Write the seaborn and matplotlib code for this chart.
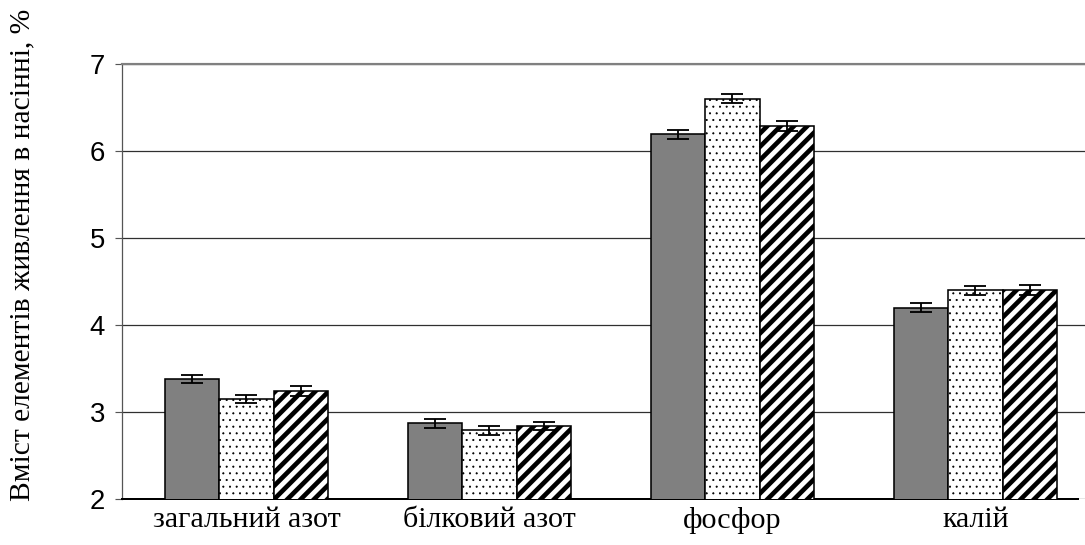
import matplotlib
matplotlib.use("Agg")
import matplotlib.pyplot as plt
import seaborn as sns
import pandas as pd
import numpy as np

# Nutrient content of seeds, %
categories = ["загальний азот", "білковий азот", "фосфор", "калій"]
variants = ["варіант 1", "варіант 2", "варіант 3"]
values_v1 = [3.38, 2.87, 6.19, 4.20]
values_v2 = [3.15, 2.79, 6.60, 4.40]
values_v3 = [3.24, 2.84, 6.29, 4.40]
errors_v1 = [0.05, 0.05, 0.05, 0.05]
errors_v2 = [0.05, 0.05, 0.05, 0.05]
errors_v3 = [0.06, 0.05, 0.06, 0.06]
y_ticks = [2, 3, 4, 5, 6, 7]

df = pd.DataFrame({
    "category": categories * 3,
    "variant": np.repeat(variants, len(categories)),
    "value": values_v1 + values_v2 + values_v3,
})
errors = [errors_v1, errors_v2, errors_v3]

sns.set_theme(style="white")
plt.rcParams["font.family"] = ["Liberation Sans", "DejaVu Sans"]

W, H, DPI = 1085, 545, 120
fig = plt.figure(figsize=(W / DPI, H / DPI), dpi=DPI)
ax = fig.add_axes([122 / W, 1 - 499 / H, 1 - 122 / W, (499 - 64) / H])

sns.barplot(data=df, x="category", y="value", hue="variant", order=categories,
            hue_order=variants, errorbar=None, width=0.67, gap=0,
            palette=["#808080", "white", "white"], edgecolor="black",
            linewidth=0.95, legend=False, ax=ax, zorder=3)

styles = [
    dict(facecolor="#808080", hatch=None, hlw=1.0),
    dict(facecolor="white", hatch="...", hlw=0.45),
    dict(facecolor="white", hatch="///", hlw=2.8),
]
for container, st, err in zip(ax.containers, styles, errors):
    xs, ys = [], []
    for patch in container.patches:
        patch.set_facecolor(st["facecolor"])
        if st["hatch"]:
            patch.set_hatch(st["hatch"])
            if hasattr(patch, "set_hatch_linewidth"):
                patch.set_hatch_linewidth(st["hlw"])
        xs.append(patch.get_x() + patch.get_width() / 2)
        ys.append(patch.get_height())
    ax.errorbar(xs, ys, yerr=err, fmt="none", ecolor="black", elinewidth=1.1,
                capsize=6.5, capthick=1.1, zorder=4)

ax.set_ylim(2, 7)
ax.set_xlim(-0.5 - 3 / 243, 3.463 - 3 / 243)
ax.set_yticks(y_ticks)
ax.set_yticklabels([str(t) for t in y_ticks], fontsize=16.5, family=["Liberation Sans"])
ax.tick_params(axis="y", direction="out", length=4.2, width=0.7, color="#555555",
               left=True, pad=6)
ax.tick_params(axis="x", length=0, pad=5)
for lbl in ax.get_xticklabels():
    lbl.set_fontfamily(["Liberation Serif"])
    lbl.set_fontsize(18)
    lbl.set_color("black")
for lbl in ax.get_yticklabels():
    lbl.set_color("black")

ax.yaxis.grid(True, color="#303030", linewidth=0.75, zorder=0)
ax.set_axisbelow(True)

ax.spines["right"].set_visible(False)
ax.spines["top"].set_color("#808080")
ax.spines["top"].set_linewidth(1.3)
ax.spines["left"].set_color("#555555")
ax.spines["left"].set_linewidth(0.75)
ax.spines["bottom"].set_color("black")
ax.spines["bottom"].set_linewidth(1.2)
ax.spines["bottom"].set_bounds(-0.5 - 3 / 243, 3.42)

ax.set_xlabel("")
ax.set_ylabel("")
fig.text(22 / W, 1 - 255 / H, "Вміст елементів живлення в насінні, %",
         rotation=90, ha="center", va="center", fontsize=17.7,
         family=["Liberation Serif"], color="black")

fig.savefig("out.png", dpi=DPI, facecolor="white")
